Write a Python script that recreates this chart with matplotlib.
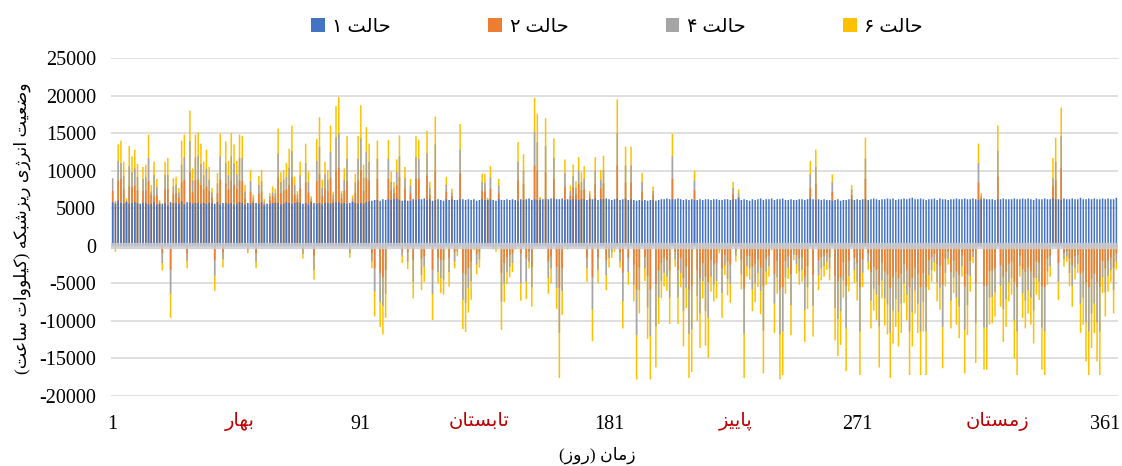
import matplotlib
matplotlib.use('Agg')
import matplotlib.pyplot as plt
from matplotlib.patches import Patch
from matplotlib.transforms import blended_transform_factory
import numpy as np

# daily values, thousand kWh
days = np.arange(1, 366)

case1 = [
    5.8, 5.6, 6.0, 5.7, 5.6, 5.8, 5.6, 5.7, 5.8, 5.7,
    5.6, 5.7, 5.7, 5.5, 5.6, 5.8, 5.5, 5.6, 5.6, 5.7,
    5.4, 5.8, 5.7, 5.7, 5.6, 5.9, 5.5, 5.8, 5.8, 5.6,
    5.7, 5.7, 5.6, 5.7, 5.6, 5.7, 5.7, 5.6, 5.8, 5.5,
    5.7, 5.7, 5.6, 5.7, 5.5, 5.6, 5.8, 5.7, 5.5, 5.7,
    5.6, 5.7, 5.7, 5.6, 5.8, 5.4, 5.6, 5.6, 5.7, 5.7,
    5.7, 5.5, 5.6, 5.8, 5.7, 5.6, 5.7, 5.8, 5.7, 5.6,
    5.7, 5.5, 5.8, 5.7, 5.6, 5.7, 5.5, 5.7, 5.7, 5.6,
    5.7, 5.8, 5.8, 5.6, 5.7, 5.6, 5.7, 5.8, 5.7, 5.6,
    5.7, 5.6, 5.8, 5.9, 6.0, 6.1, 6.1, 6.0, 6.2, 6.1,
    6.2, 6.1, 6.2, 6.3, 6.1, 6.0, 6.1, 6.0, 6.0, 6.2,
    6.1, 6.2, 6.2, 6.3, 6.1, 6.2, 6.0, 6.1, 6.2, 6.1,
    6.0, 6.2, 6.1, 6.2, 6.1, 6.1, 6.2, 6.2, 6.1, 6.2,
    6.1, 6.2, 6.0, 6.1, 6.2, 6.1, 6.1, 6.2, 6.1, 6.0,
    6.2, 6.1, 6.1, 6.2, 6.1, 6.2, 6.1, 6.0, 6.2, 6.1,
    6.2, 6.3, 6.1, 6.2, 6.1, 6.1, 6.2, 6.2, 6.2, 6.3,
    6.3, 6.2, 6.2, 6.3, 6.1, 6.2, 6.1, 6.2, 6.2, 6.1,
    6.2, 6.2, 6.1, 6.2, 6.2, 6.3, 6.1, 6.2, 6.2, 6.3,
    6.2, 6.1, 6.2, 6.3, 6.1, 6.2, 6.3, 6.1, 6.2, 6.1,
    6.0, 6.1, 6.0, 6.1, 6.0, 6.1, 6.1, 6.0, 6.1, 6.2,
    6.2, 6.3, 6.2, 6.2, 6.2, 6.3, 6.2, 6.1, 6.2, 6.1,
    6.2, 6.1, 6.1, 6.2, 6.1, 6.2, 6.2, 6.1, 6.2, 6.2,
    6.1, 6.1, 6.2, 6.2, 6.1, 6.2, 6.2, 6.3, 6.1, 6.2,
    6.1, 6.0, 6.2, 6.1, 6.2, 6.3, 6.1, 6.2, 6.2, 6.3,
    6.1, 6.2, 6.2, 6.3, 6.1, 6.1, 6.2, 6.1, 6.1, 6.2,
    6.2, 6.1, 6.2, 6.3, 6.2, 6.1, 6.2, 6.1, 6.2, 6.1,
    6.1, 6.0, 6.1, 6.2, 6.0, 6.1, 6.1, 6.2, 6.2, 6.1,
    6.2, 6.1, 6.2, 6.2, 6.1, 6.2, 6.3, 6.2, 6.1, 6.2,
    6.2, 6.3, 6.2, 6.3, 6.1, 6.2, 6.2, 6.3, 6.2, 6.3,
    6.4, 6.2, 6.2, 6.3, 6.2, 6.1, 6.2, 6.2, 6.3, 6.1,
    6.3, 6.2, 6.2, 6.1, 6.2, 6.2, 6.3, 6.2, 6.2, 6.3,
    6.2, 6.2, 6.3, 6.2, 6.1, 6.2, 6.3, 6.2, 6.2, 6.2,
    6.1, 6.2, 6.2, 6.3, 6.2, 6.2, 6.2, 6.3, 6.2, 6.2,
    6.3, 6.2, 6.3, 6.2, 6.1, 6.3, 6.2, 6.2, 6.3, 6.2,
    6.2, 6.3, 6.2, 6.2, 6.1, 6.3, 6.2, 6.2, 6.3, 6.2,
    6.2, 6.4, 6.2, 6.2, 6.3, 6.2, 6.3, 6.2, 6.2, 6.3,
    6.2, 6.3, 6.2, 6.2, 6.4,
]

case2 = [
    7.3, 5.9, 8.7, 8.9, 7.5, 5.8, 7.9, 7.8, 8.0, 7.4,
    0, 7.3, 7.4, 8.6, 6.8, 6.6, 6.7, 5.5, -1.0, 7.5,
    7.5, -3.2, 6.8, 7.0, 6.4, 8.5, 8.8, -1.0, 9.8, 7.1,
    8.7, 8.8, 8.1, 7.5, 7.9, 7.3, 6.4, -1.9, 7.0, 8.8,
    -0.9, 8.3, 7.5, 8.7, 8.1, 7.6, 8.7, 8.6, 6.3, 0,
    7.2, 6.0, -1.0, 6.9, 7.2, 5.6, 0, 6.1, 6.6, 6.4,
    9.0, 7.0, 7.3, 7.5, 8.1, 9.1, 6.8, 6.2, 7.6, -0.5,
    8.4, 7.1, 5.9, -1.4, 8.6, 9.5, 6.6, 7.6, 7.3, 9.0,
    6.2, 10.0, 10.4, 6.3, 7.3, 8.6, -0.4, 5.9, 7.0, 8.7,
    10.1, 7.3, 9.0, 8.7, -1.0, -3.0, 8.9, -3.6, -4.2, -3.2,
    8.9, 7.4, 7.0, 8.0, 9.1, -0.6, 7.6, -0.8, 7.0, -1.9,
    9.0, 8.9, -1.7, -1.4, 9.3, 6.8, -3.2, 9.9, -1.6, -1.9,
    -1.9, 7.2, -1.6, 6.6, -0.8, -0.3, 9.6, -3.6, -3.8, -3.0,
    -2.1, 0, -1.1, -0.8, 7.3, 7.2, 6.0, 7.6, -0.1, 0,
    7.0, -3.6, -2.3, -1.5, -1.2, -1.0, 0, 8.7, -1.0, 8.2,
    -1.7, -0.8, -2.8, 10.7, 10.0, 6.0, 0, 9.8, -2.1, -1.4,
    8.9, -2.8, -5.6, -3.0, 7.9, 0, 6.6, 7.8, 6.9, 8.2,
    7.4, 7.5, -1.6, 6.4, -4.2, 8.2, -1.6, 7.6, 8.3, -1.9,
    -0.5, -0.3, 0, 10.7, -0.9, -3.6, 8.4, -1.6, 8.4, -2.5,
    -5.8, -2.9, 7.2, -1.5, -4.0, -5.8, 6.8, -5.1, -3.3, -2.3,
    -1.6, -1.9, -3.3, 8.9, -0.8, -3.3, -1.6, -4.3, -2.8, -5.8,
    -5.3, 7.4, -3.2, -4.3, -2.3, -4.1, -4.8, -1.9, -2.5, -2.3,
    -0.2, -3.0, -1.2, -2.1, -2.5, 6.9, -0.6, 6.5, -1.8, -5.7,
    -1.3, -1.4, -2.8, -2.4, -1.8, -2.9, -5.4, -1.7, -1.3, -0.1,
    -3.7, -2.0, -5.7, -5.5, -2.0, -1.4, -3.8, -0.6, -1.2, -1.7,
    -1.5, -4.1, -2.7, 7.7, -3.9, 8.3, -1.9, -1.5, -1.3, -1.0,
    -1.5, 7.2, -4.0, -4.7, -4.2, -2.2, -5.3, -2.0, 6.8, -1.6,
    -2.3, -5.5, -1.8, 8.9, -1.0, -3.5, -2.8, -3.2, -5.2, -2.2,
    -3.4, -3.8, -5.6, -4.2, -3.5, -4.3, -3.7, -2.4, -3.2, -5.5,
    -4.3, -2.9, -3.7, -5.5, -3.6, -5.5, -1.9, -1.5, -1.1, -2.4,
    -2.7, -5.2, -1.7, -0.8, -3.5, -2.0, -3.4, -3.9, -1.3, -5.4,
    -3.8, -2.0, -0.7, -5.0, 8.4, 6.3, -5.3, -5.3, -3.4, -3.3,
    -3.0, 9.2, -2.6, -4.1, -3.5, -2.4, -2.1, -4.8, -5.5, -1.3,
    -3.1, -3.5, -2.9, -3.4, -4.2, -2.1, -2.3, -5.3, -5.5, -1.7,
    -1.3, 8.0, 8.7, -2.3, 10.3, -0.9, -0.7, -1.7, -2.6, -1.4,
    -1.2, -3.7, -3.4, -4.9, -5.5, -4.4, -3.7, -4.9, -5.5, -2.0,
    -3.0, -2.0, -1.5, -2.9, -1.0,
]

case4 = [
    9.0, 0.5, 11.3, 11.0, 9.3, 6.0, 10.6, 9.8, 10.3, 9.2,
    0, 8.9, 9.1, 11.7, 7.2, 9.4, 7.8, 5.9, -2.3, 9.4,
    9.4, -6.4, 7.9, 8.1, 7.1, 10.8, 11.8, -2.0, 13.9, 8.7,
    11.8, 12.0, 10.9, 9.4, 10.3, 8.8, 7.1, -4.0, 8.3, 11.9,
    -1.8, 11.0, 9.4, 11.9, 10.9, 9.5, 11.7, 11.7, 7.2, -0.6,
    8.6, 6.4, -2.1, 8.1, 8.6, 5.9, 0, 6.6, 7.1, 7.0,
    12.3, 8.5, 8.8, 9.2, 10.4, 12.6, 8.1, 6.8, 9.4, -1.1,
    11.0, 8.5, 6.3, -3.2, 11.3, 13.2, 7.7, 9.5, 8.8, 12.5,
    6.8, 14.4, 15.0, 6.9, 8.7, 11.6, -1.0, 6.3, 8.4, 11.6,
    14.3, 9.1, 12.5, 11.2, -2.1, -6.1, 11.6, -7.5, -8.0, -6.4,
    11.6, 8.5, 7.7, 9.8, 11.9, -1.3, 9.0, -2.1, 8.0, -4.8,
    11.8, 11.6, -3.9, -2.8, 12.3, 7.7, -6.4, 13.5, -3.5, -4.3,
    -4.5, 8.1, -3.5, 7.1, -2.1, -0.8, 12.8, -7.2, -7.6, -5.6,
    -4.7, -0.3, -2.5, -1.8, 8.5, 8.4, 6.2, 9.1, -0.3, -0.4,
    8.0, -7.4, -5.0, -3.5, -2.8, -2.3, -0.3, 11.2, -5.0, 10.0,
    -4.8, -2.1, -5.5, 15.2, 13.8, 6.3, 0, 13.3, -4.3, -3.0,
    11.7, -5.6, -11.6, -6.0, 9.7, -0.3, 7.3, 9.3, 7.7, 10.0,
    8.5, 8.9, -3.0, 6.9, -8.5, 10.0, -3.2, 8.8, 10.1, -3.9,
    -1.6, -0.9, -0.4, 15.0, -2.1, -7.4, 10.7, -3.5, 10.7, -5.2,
    -11.9, -5.9, 8.5, -3.0, -8.2, -12.0, 7.3, -10.7, -6.9, -4.7,
    -3.6, -4.1, -6.9, 11.9, -1.8, -6.9, -3.6, -8.7, -5.6, -11.7,
    -11.1, 8.7, -6.7, -9.0, -4.7, -8.7, -9.6, -4.1, -5.2, -4.7,
    -0.5, -6.3, -2.6, -4.4, -5.1, 7.7, -1.3, 7.0, -3.8, -11.7,
    -2.7, -3.0, -5.8, -5.0, -3.6, -6.0, -11.3, -3.4, -2.7, -0.3,
    -7.7, -4.2, -11.8, -11.4, -4.2, -2.9, -7.9, -1.2, -2.4, -3.4,
    -3.2, -8.5, -5.5, 9.5, -8.0, 10.5, -3.9, -3.0, -2.7, -2.1,
    -3.0, 8.5, -8.3, -9.7, -8.7, -4.6, -11.0, -4.0, 7.5, -3.2,
    -4.8, -11.4, -3.6, 11.6, -2.1, -7.3, -5.7, -6.5, -10.7, -4.6,
    -7.0, -7.8, -11.6, -8.6, -7.1, -8.8, -7.7, -5.0, -6.5, -11.4,
    -8.8, -5.9, -7.7, -11.4, -7.5, -11.4, -3.9, -3.2, -2.2, -4.9,
    -5.6, -10.8, -3.6, -1.7, -7.3, -4.2, -6.9, -8.1, -2.7, -11.2,
    -7.9, -4.0, -1.5, -10.3, 11.0, 6.6, -10.9, -10.9, -6.9, -6.8,
    -6.2, 12.6, -5.3, -8.4, -7.1, -4.9, -4.3, -9.9, -11.4, -2.7,
    -6.3, -7.3, -5.9, -6.9, -8.6, -4.3, -4.8, -10.9, -11.4, -3.4,
    -2.7, 9.0, 11.2, -4.8, 14.6, -1.8, -1.4, -3.6, -5.3, -3.0,
    -2.4, -7.7, -6.9, -10.2, -11.4, -9.0, -7.7, -10.2, -11.4, -4.2,
    -6.2, -4.0, -3.2, -5.9, -2.1,
]

case6 = [
    0, -0.8, 13.5, 14.0, 11.2, 6.3, 13.3, 11.9, 12.8, 10.9,
    0, 10.5, 10.8, 14.8, 8.1, 11.2, 8.9, 6.1, -3.3, 11.2,
    11.7, -9.6, 9.0, 9.2, 7.7, 14.0, 14.8, -3.0, 18.0, 10.3,
    14.8, 15.1, 13.6, 11.2, 12.8, 10.5, 7.7, -6.0, 9.7, 14.9,
    -2.9, 13.9, 11.3, 15.0, 13.5, 11.3, 14.8, 14.6, 8.1, -1.0,
    10.1, 6.8, -3.0, 9.3, 10.1, 6.2, 0, 7.0, 7.9, 7.6,
    15.6, 9.8, 10.1, 11.0, 12.9, 16.0, 9.2, 7.3, 11.2, -1.7,
    13.6, 9.9, 6.6, -4.5, 14.2, 17.1, 8.8, 11.2, 10.1, 16.0,
    7.2, 18.6, 19.8, 7.3, 10.3, 14.6, -1.6, 6.7, 9.6, 14.6,
    18.7, 10.8, 15.8, 13.6, -3.0, -9.4, 14.0, -10.8, -11.8, -9.6,
    14.1, 9.9, 8.5, 11.5, 14.7, -2.3, 10.5, -3.1, 8.9, -7.0,
    14.6, 14.1, -5.9, -4.8, 15.3, 8.5, -9.9, 17.2, -5.0, -6.3,
    -6.5, 9.2, -5.4, 7.6, -3.0, -1.4, 16.2, -11.1, -11.5, -8.9,
    -7.2, -0.6, -3.8, -2.9, 9.6, 9.6, 6.4, 10.6, -0.5, -0.8,
    8.9, -11.2, -7.5, -5.1, -4.2, -3.5, -0.5, 13.8, -7.3, 12.2,
    -7.1, -3.0, -8.1, 19.7, 17.6, 6.5, 0, 17.0, -6.4, -5.0,
    14.3, -8.4, -17.6, -9.2, 11.5, -0.5, 8.0, 10.8, 8.6, 11.8,
    9.8, 10.6, -4.8, 7.3, -12.7, 11.8, -5.0, 10.1, 12.0, -5.9,
    -2.9, -1.6, -0.8, 19.5, -2.9, -11.0, 13.2, -5.2, 13.2, -7.4,
    -17.8, -9.0, 9.7, -4.7, -12.4, -17.8, 7.9, -16.2, -10.4, -7.0,
    -5.4, -6.0, -10.4, 14.9, -2.8, -10.4, -5.5, -13.4, -8.3, -17.6,
    -16.8, 10.0, -10.0, -13.6, -7.0, -13.3, -14.9, -6.1, -7.4, -7.0,
    -1.0, -9.6, -3.9, -6.6, -7.6, 8.5, -2.1, 7.5, -5.8, -17.6,
    -4.1, -4.5, -8.7, -7.5, -5.5, -9.1, -17.0, -5.2, -4.1, -0.6,
    -11.6, -6.4, -17.8, -17.2, -6.4, -4.4, -11.9, -1.9, -3.7, -5.2,
    -4.8, -12.8, -8.4, 11.3, -12.1, 12.8, -5.9, -4.6, -4.1, -3.2,
    -4.6, 9.5, -12.6, -14.7, -13.2, -6.9, -16.7, -6.1, 8.1, -4.9,
    -7.3, -17.2, -5.5, 14.4, -3.2, -11.0, -8.6, -9.9, -16.2, -7.0,
    -10.6, -11.8, -17.6, -13.0, -10.8, -13.4, -11.6, -7.6, -9.9, -17.2,
    -13.4, -9.0, -11.6, -17.2, -11.4, -17.2, -5.9, -4.8, -3.4, -7.4,
    -8.5, -16.3, -5.4, -2.5, -11.0, -6.3, -10.5, -12.3, -4.1, -17.0,
    -11.9, -6.1, -2.3, -15.6, 13.6, 7.0, -16.5, -16.5, -10.5, -10.3,
    -9.4, 16.0, -8.1, -12.8, -10.8, -7.4, -6.5, -15.0, -17.2, -4.1,
    -9.6, -11.0, -9.0, -10.5, -13.0, -6.5, -7.2, -16.5, -17.2, -5.2,
    -4.1, 11.7, 14.4, -7.2, 18.4, -2.8, -2.1, -5.4, -8.1, -4.5,
    -3.6, -11.6, -10.5, -15.4, -17.2, -13.6, -11.6, -15.4, -17.2, -6.3,
    -9.4, -6.1, -4.8, -9.0, -3.2,
]

series_names = ['حالت ۱', 'حالت ۲', 'حالت ۴', 'حالت ۶']
colors = ['#4472C4', '#ED7D31', '#A5A5A5', '#FFC000']
xticks = [1, 91, 181, 271, 361]
seasons = ['بهار', 'تابستان', 'پاییز', 'زمستان']
season_pos = [47, 134, 227, 322]
yticks = np.arange(-20000, 25001, 5000)

# simple persian shaping (matplotlib has no text shaping)
FORMS = {
    'ا': ('\uFE8D', '\uFE8E', None, None),
    'ب': ('\uFE8F', '\uFE90', '\uFE91', '\uFE92'),
    'ت': ('\uFE95', '\uFE96', '\uFE97', '\uFE98'),
    'ح': ('\uFEA1', '\uFEA2', '\uFEA3', '\uFEA4'),
    'ر': ('\uFEAD', '\uFEAE', None, None),
    'ز': ('\uFEAF', '\uFEB0', None, None),
    'ژ': ('\uFB8A', '\uFB8B', None, None),
    'س': ('\uFEB1', '\uFEB2', '\uFEB3', '\uFEB4'),
    'ش': ('\uFEB5', '\uFEB6', '\uFEB7', '\uFEB8'),
    'ض': ('\uFEBD', '\uFEBE', '\uFEBF', '\uFEC0'),
    'ع': ('\uFEC9', '\uFECA', '\uFECB', '\uFECC'),
    'ل': ('\uFEDD', '\uFEDE', '\uFEDF', '\uFEE0'),
    'م': ('\uFEE1', '\uFEE2', '\uFEE3', '\uFEE4'),
    'ن': ('\uFEE5', '\uFEE6', '\uFEE7', '\uFEE8'),
    'ه': ('\uFEE9', '\uFEEA', '\uFEEB', '\uFEEC'),
    'و': ('\uFEED', '\uFEEE', None, None),
    'پ': ('\uFB56', '\uFB57', '\uFB58', '\uFB59'),
    'ک': ('\uFB8E', '\uFB8F', '\uFB90', '\uFB91'),
    'ی': ('\uFBFC', '\uFBFD', '\uFBFE', '\uFBFF'),
}
FORMS['ك'] = FORMS['ک']
FORMS['ي'] = FORMS['ی']


def fa(s):
    out = []
    for i, ch in enumerate(s):
        if ch not in FORMS:
            out.append({'(': ')', ')': '('}.get(ch, ch))
            continue
        f = FORMS[ch]
        prev = s[i - 1] if i > 0 else ''
        nxt = s[i + 1] if i + 1 < len(s) else ''
        jp = prev in FORMS and FORMS[prev][2] is not None
        jn = f[2] is not None and nxt in FORMS
        if jp and jn:
            out.append(f[3])
        elif jp:
            out.append(f[1])
        elif jn:
            out.append(f[2])
        else:
            out.append(f[0])
    return ''.join(reversed(out))


FAM = ['Liberation Serif', 'DejaVu Sans']
plt.rcParams['font.family'] = FAM

fig = plt.figure(figsize=(11.22, 4.66), dpi=100)
ax = fig.add_axes([0.0992, 0.1502, 0.897, 0.7253])

# overlapped columns: case 6 at the back, case 1 in front
data = [case1, case2, case4, case6]
w = 0.55
for k in [3, 2, 1, 0]:
    ax.bar(days, np.array(data[k]) * 1000, width=w, color=colors[k],
           linewidth=0, snap=False, zorder=3 + (3 - k))

# thick category axis line over the columns
ax.axhline(0, color='#c9ccd2', lw=4.5, alpha=0.85, zorder=8)

ax.set_xlim(0.5, 365.5)
ax.set_ylim(-20000, 25000)
ax.set_yticks(yticks)
ax.set_yticklabels([str(v) for v in yticks])
ax.set_xticks(xticks)
ax.set_xticklabels([str(v) for v in xticks])
ax.tick_params(axis='both', length=0, labelsize=14.5)
ax.tick_params(axis='y', pad=11)
ax.tick_params(axis='x', pad=14)
ax.grid(axis='y', color='#d9d9d9', lw=1.2, zorder=0)
ax.set_axisbelow(True)
for s in ax.spines.values():
    s.set_visible(False)

trans = blended_transform_factory(ax.transData, ax.transAxes)
for name, p in zip(seasons, season_pos):
    ax.text(p, -0.074, fa(name), transform=trans, ha='center', va='center',
            color='#C00000', fontsize=14, family=FAM)

fig.text(597 / 1122, 1 - 455 / 466, fa('زمان (روز)'), ha='center',
         va='center', fontsize=12.5, family=FAM)
fig.text(22 / 1122, 1 - 228 / 466, fa('وضعیت انرژی ریزشبکه (کیلووات ساعت)'),
         ha='center', va='center', rotation=90, fontsize=12.5, family=FAM)

handles = [Patch(facecolor=c, edgecolor='none') for c in colors]
fig.legend(handles, [fa(n) for n in series_names], loc='center',
           bbox_to_anchor=(617 / 1122, 1 - 27 / 466), ncol=4, frameon=False,
           fontsize=14, handlelength=0.7, handleheight=0.7,
           handletextpad=0.4, columnspacing=5.0)

plt.savefig('out.png', dpi=100)
